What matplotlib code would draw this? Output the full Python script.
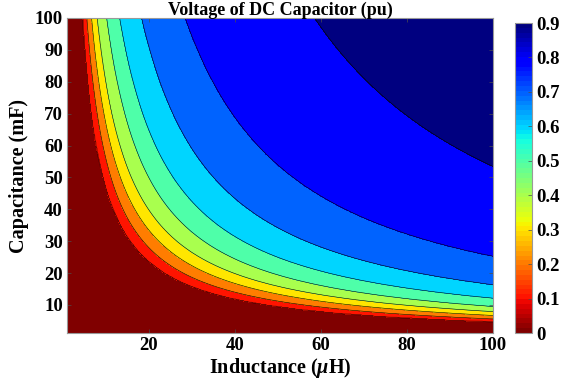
import numpy as np
import matplotlib
matplotlib.use("Agg")
import matplotlib.pyplot as plt
from matplotlib import cm, colors

# Contour boundary levels (pu)
levels = [0.1, 0.2, 0.3, 0.4, 0.5, 0.6, 0.7, 0.8, 0.9]
# Inductance (uH) where each level boundary meets C = 100 mF (top edge)
L_at_top = [4.7, 5.6, 6.7, 8.0, 10.2, 13.2, 18.3, 28.4, 58.5]
# Capacitance (mF) where each level boundary meets L = 100 uH (right edge)
C_at_right = [4.8, 5.6, 6.7, 7.9, 9.5, 12.1, 16.3, 25.2, 53.4]
cbar_ticks = [0, 0.1, 0.2, 0.3, 0.4, 0.5, 0.6, 0.7, 0.8, 0.9]

L = np.linspace(1, 100, 400)
C = np.linspace(1.2, 100, 400)
LL, CC = np.meshgrid(L, C)
u, v = np.log(LL), np.log(CC)
U = np.log(100.0)
S = np.array([(u - np.log(a)) / (U - np.log(a)) + (v - np.log(b)) / (U - np.log(b))
              for a, b in zip(L_at_top, C_at_right)])
K = len(levels)
n = (S >= 1).sum(axis=0)
Z = np.empty_like(LL)
lev = np.array(levels)
for k in range(K + 1):
    m = n == k
    if k == 0:
        Z[m] = lev[0] + 0.1 * (S[0][m] - 1)
    elif k == K:
        Z[m] = lev[-1] + 0.1 * (S[-1][m] - 1)
    else:
        s0, s1 = S[k - 1][m], S[k][m]
        Z[m] = lev[k - 1] + 0.1 * (s0 - 1) / (s0 - s1)
Z = np.clip(Z, 0.001, 0.999)

plt.rcParams['font.family'] = ['Liberation Serif', 'DejaVu Serif']
plt.rcParams['font.weight'] = 'bold'
plt.rcParams['mathtext.fontset'] = 'custom'
plt.rcParams['mathtext.it'] = 'Liberation Serif:italic:bold'
plt.rcParams['mathtext.rm'] = 'Liberation Serif:bold'

fig = plt.figure(figsize=(5.68, 3.87), dpi=100)
ax = fig.add_axes([0.118, 0.1395, 0.750, 0.8140])
cmap = plt.get_cmap('jet_r', 64)
norm = colors.Normalize(0, 0.9)
all_levels = [0] + levels + [1.0]
fill_colors = [cmap(norm(x)) for x in all_levels[:-1]]
ax.contourf(LL, CC, Z, levels=all_levels, colors=fill_colors)
ax.contour(LL, CC, Z, levels=levels, colors='k', linewidths=0.4)
ax.set_xlim(1, 100)
ax.set_ylim(1.2, 100)
ax.set_xticks([20, 40, 60, 80, 100])
ax.set_yticks([10, 20, 30, 40, 50, 60, 70, 80, 90, 100])
ax.tick_params(direction='in', top=True, right=True, labelsize=13.5, length=3, width=0.5, color='0.3', pad=3)
for lab in ax.get_xticklabels() + ax.get_yticklabels():
    lab.set_fontweight('bold')
for s in ax.spines.values():
    s.set_color('0.6')
    s.set_linewidth(0.8)
ax.set_title('Voltage of DC Capacitor (pu)', fontsize=13, fontweight='bold', pad=2)
ax.set_xlabel(r'Inductance ($\mu$H)', fontsize=14.5, fontweight='bold', labelpad=1)
ax.set_ylabel('Capacitance (mF)', fontsize=14.5, fontweight='bold', labelpad=4)

cax = fig.add_axes([0.907, 0.1395, 0.030, 0.801])
sm = cm.ScalarMappable(norm=norm, cmap=cmap)
cb = fig.colorbar(sm, cax=cax, ticks=cbar_ticks)
cb.ax.set_yticklabels([f'{t:g}' for t in cbar_ticks])
cb.ax.tick_params(direction='in', labelsize=13.5, length=3, width=0.5, color='0.3', pad=3)
cb.outline.set_edgecolor('0.6')
cb.outline.set_linewidth(0.8)
for lab in cb.ax.get_yticklabels():
    lab.set_fontweight('bold')

fig.savefig('out.png', dpi=100)
